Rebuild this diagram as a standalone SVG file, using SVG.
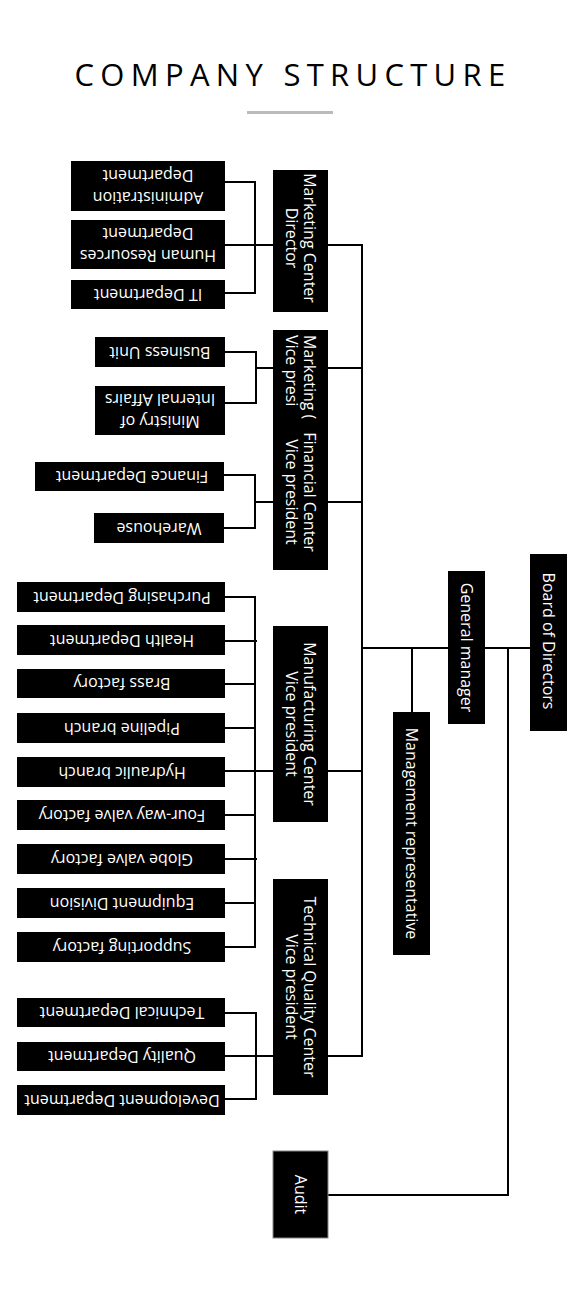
<svg xmlns="http://www.w3.org/2000/svg" width="580" height="1302" viewBox="0 0 580 1302">
<style>
.b{fill:#000}
.t{fill:#fff;font-family:"Open Sans","Noto Sans",sans-serif;font-size:16px;text-anchor:middle}
.ts{fill:#fff;font-family:"Open Sans","Noto Sans",sans-serif;font-size:16px;text-anchor:start}
.c{fill:none;stroke:#000;stroke-width:2}
.title{font-family:"Open Sans","Noto Sans",sans-serif;font-size:31px;letter-spacing:6.3px;fill:#000;text-anchor:middle}
</style>
<rect width="580" height="1302" fill="#fff"/>
<text class="title" x="293" y="86">COMPANY STRUCTURE</text>
<rect x="247" y="111" width="86" height="3" fill="#bbb"/>

<g id="connectors" class="c">
<path class="c" d="M225,182 H255 V293 H225 M225,245 H273 M328,245 H362 V1056 H328"/>
<path class="c" d="M328,368 H362 M328,502 H362 M328,771 H362"/>
<path class="c" d="M225,352 H256 V403 H225 M256,368 H273"/>
<path class="c" d="M224,475 H255 V528 H224 M255,502 H273"/>
<path class="c" d="M225,597 H255 V947 H225 M225,641 H257 M225,684 H255 M225,728 H255 M225,771 H273 M225,815 H255 M225,859 H257 M225,903 H255"/>
<path class="c" d="M225,1013 H256 V1099 H225 M225,1056 H273"/>
<path class="c" d="M362,648 H448 M485,648 H530 M412,648 V712 M508,648 V1195 H328"/>
</g>

<g id="board"><rect class="b" x="530" y="554" width="37" height="177"/>
<text class="t" transform="translate(548.5,641) rotate(90)" y="5.5">Board of Directors</text></g>
<g id="general-manager"><rect class="b" x="448" y="571" width="37" height="153"/>
<text class="t" transform="translate(466.5,647.5) rotate(90)" y="5.5">General manager</text></g>
<g id="management-rep"><rect class="b" x="393" y="712" width="37" height="243"/>
<text class="t" transform="translate(411.5,833.5) rotate(90)" y="5.5">Management representative</text></g>

<g id="marketing-director"><rect class="b" x="273" y="170" width="55" height="142"/>
<text class="t" transform="translate(300.5,238) rotate(90)"><tspan x="0" y="-3.5">Marketing Center</tspan><tspan x="0" y="14.5">Director</tspan></text></g>
<g id="marketing-vp"><rect class="b" x="273" y="330" width="55" height="100"/>
<text class="ts" transform="translate(300.5,335) rotate(90)"><tspan x="0" y="-3.5">Marketing (</tspan><tspan x="0" y="14.5">Vice presi</tspan></text></g>
<g id="financial-vp"><rect class="b" x="273" y="420" width="55" height="150"/>
<text class="t" transform="translate(300.5,492) rotate(90)"><tspan x="0" y="-3.5">Financial Center</tspan><tspan x="0" y="14.5">Vice president</tspan></text></g>
<g id="manufacturing-vp"><rect class="b" x="273" y="626" width="55" height="196"/>
<text class="t" transform="translate(300.5,724) rotate(90)"><tspan x="0" y="-3.5">Manufacturing Center</tspan><tspan x="0" y="14.5">Vice president</tspan></text></g>
<g id="technical-vp"><rect class="b" x="273" y="879" width="55" height="216"/>
<text class="t" transform="translate(300.5,987) rotate(90)"><tspan x="0" y="-3.5">Technical Quality Center</tspan><tspan x="0" y="14.5">Vice president</tspan></text></g>
<g id="audit"><rect class="b" x="273" y="1151" width="55" height="87" stroke="#888" stroke-width="1"/>
<text class="t" transform="translate(300.5,1194.5) rotate(90)" y="5.5">Audit</text></g>

<g id="admin"><rect class="b" x="71" y="161" width="154" height="50"/>
<text class="t" transform="translate(148,186) rotate(180)"><tspan x="0" y="-5.5">Administration</tspan><tspan x="0" y="16.5">Department</tspan></text></g>
<g id="hr"><rect class="b" x="71" y="220" width="154" height="49"/>
<text class="t" transform="translate(148,244.5) rotate(180)"><tspan x="0" y="-5.5">Human Resources</tspan><tspan x="0" y="16.5">Department</tspan></text></g>
<g id="it"><rect class="b" x="71" y="280" width="154" height="29"/>
<text class="t" transform="translate(148,294.5) rotate(180)" y="5.5">IT Department</text></g>
<g id="business"><rect class="b" x="95" y="337" width="130" height="30"/>
<text class="t" transform="translate(160,352) rotate(180)" y="5.5">Business Unit</text></g>
<g id="internal"><rect class="b" x="95" y="386" width="130" height="49"/>
<text class="t" transform="translate(160,410.5) rotate(180)"><tspan x="0" y="-5.5">Ministry of</tspan><tspan x="0" y="16.5">Internal Affairs</tspan></text></g>
<g id="finance"><rect class="b" x="35" y="462" width="189" height="29"/>
<text class="t" transform="translate(132,476.5) rotate(180)" y="5.5">Finance Department</text></g>
<g id="warehouse"><rect class="b" x="94" y="513" width="130" height="30"/>
<text class="t" transform="translate(159,528) rotate(180)" y="5.5">Warehouse</text></g>

<g id="purchasing"><rect class="b" x="17" y="582" width="208" height="30"/>
<text class="t" transform="translate(122,597) rotate(180)" y="5.5">Purchasing Department</text></g>
<g id="health"><rect class="b" x="17" y="625" width="208" height="30"/>
<text class="t" transform="translate(122,640) rotate(180)" y="5.5">Health Department</text></g>
<g id="brass"><rect class="b" x="17" y="669" width="208" height="29"/>
<text class="t" transform="translate(122,683.5) rotate(180)" y="5.5">Brass factory</text></g>
<g id="pipeline"><rect class="b" x="17" y="713" width="208" height="30"/>
<text class="t" transform="translate(122,728) rotate(180)" y="5.5">Pipeline branch</text></g>
<g id="hydraulic"><rect class="b" x="17" y="757" width="208" height="30"/>
<text class="t" transform="translate(122,772) rotate(180)" y="5.5">Hydraulic branch</text></g>
<g id="fourway"><rect class="b" x="17" y="800" width="208" height="30"/>
<text class="t" transform="translate(122,815) rotate(180)" y="5.5">Four-way valve factory</text></g>
<g id="globe"><rect class="b" x="17" y="844" width="208" height="30"/>
<text class="t" transform="translate(122,859) rotate(180)" y="5.5">Globe valve factory</text></g>
<g id="equipment"><rect class="b" x="17" y="888" width="208" height="30"/>
<text class="t" transform="translate(122,903) rotate(180)" y="5.5">Equipment Division</text></g>
<g id="supporting"><rect class="b" x="17" y="932" width="208" height="30"/>
<text class="t" transform="translate(122,947) rotate(180)" y="5.5">Supporting factory</text></g>

<g id="technical"><rect class="b" x="17" y="998" width="208" height="29"/>
<text class="t" transform="translate(122,1012.5) rotate(180)" y="5.5">Technical Department</text></g>
<g id="quality"><rect class="b" x="17" y="1042" width="208" height="29"/>
<text class="t" transform="translate(122,1056.5) rotate(180)" y="5.5">Quality Department</text></g>
<g id="development"><rect class="b" x="17" y="1085" width="208" height="30"/>
<text class="t" transform="translate(122,1100) rotate(180)" y="5.5">Development Department</text></g>
</svg>
